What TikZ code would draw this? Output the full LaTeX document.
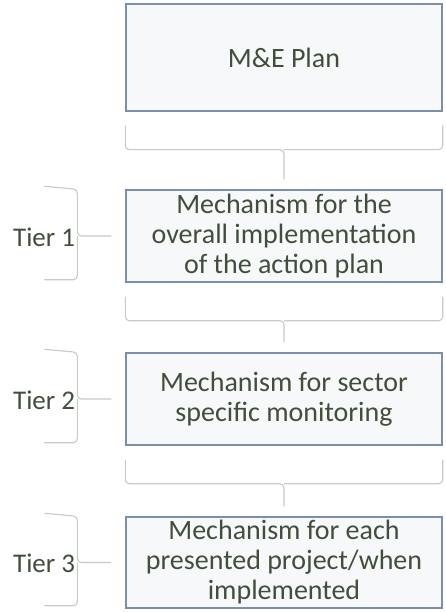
\documentclass[tikz,border=0pt]{standalone}
\usepackage{fontspec}
\setmainfont{Carlito}
\usetikzlibrary{calc}

\definecolor{boxline}{RGB}{122,142,176}
\definecolor{boxfill}{RGB}{246,248,250}
\definecolor{boxtext}{RGB}{66,78,60}
\definecolor{braceline}{RGB}{200,202,196}

\begin{document}
\begin{tikzpicture}
      [x=1pt,y=-1pt
      ,box/.style={draw=boxline,line width=1.4pt,fill=boxfill,text=boxtext,
         minimum width=316pt,align=center,inner sep=2pt,
         font=\fontsize{28}{30}\selectfont}
      ,brc/.style={draw=braceline,line width=1.1pt,rounded corners=4pt}
      ,tier/.style={text=boxtext,anchor=east,inner sep=0pt,
         font=\fontsize{27}{30}\selectfont}
      ]
        \useasboundingbox (0,0) rectangle (446,612);
        \node[box,minimum height=107pt] (plan) at (284,57.5) {M\&E Plan};
        \node[box,minimum height=92pt] (t1) at (284,236)
          {Mechanism for the\\overall implementation\\of the action plan};
        \node[box,minimum height=92pt] (t2) at (284,399)
          {Mechanism for sector\\specific monitoring};
        \node[box,minimum height=91pt] (t3) at (284,562.5)
          {Mechanism for each\\presented project/when\\implemented};
        % braces between the boxes
        \foreach \a/\b in {plan/t1,t1/t2,t2/t3}{
          \coordinate (l) at ($(\a.south west)+(0,14)$);
          \coordinate (r) at ($(\a.south east)+(0,14)$);
          \coordinate (m) at ($(\a.south)+(0,38)$);
          \draw[brc] (l) -- (l |- m) -- (m) -- ($(\b.north)+(0,-10)$);
          \draw[brc] (r) -- (r |- m) -- (m);
        }
        % tier braces on the left
        \foreach \t/\n in {t1/1,t2/2,t3/3}{
          \coordinate (v) at ($(\t.west)+(-48,0)$);
          \draw[brc] ($(\t.north west)+(-81,-3)$) -- (v |- \t.north) -- (v)
            -- ($(\t.west)+(-14,0)$);
          \draw[brc] ($(\t.south west)+(-81,-3)$) -- ($(v |- \t.south)+(0,-3)$) -- (v);
          \node[tier] (tier\n) at ($(v)+(-2,1)$) {Tier \n};
        }
      \end{tikzpicture}
\end{document}
